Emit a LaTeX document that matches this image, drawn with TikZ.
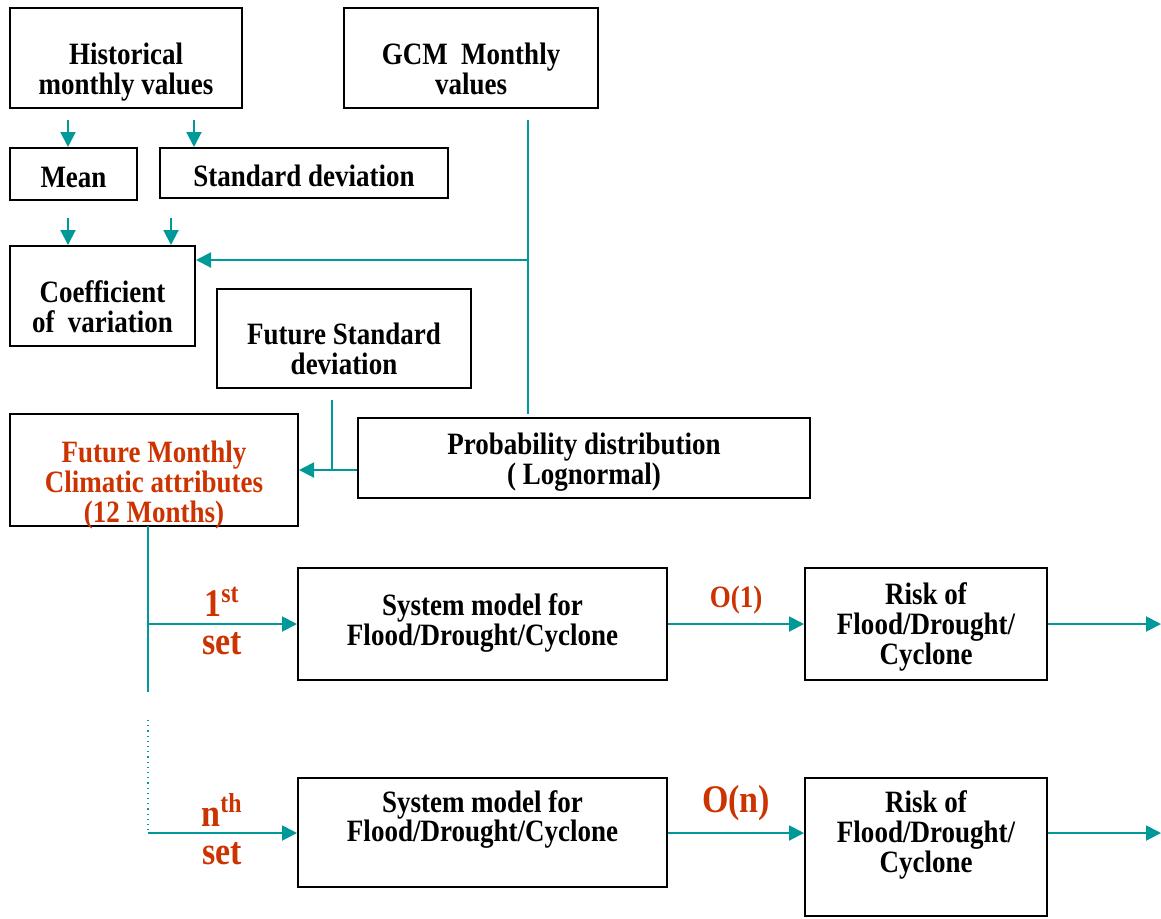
\documentclass[tikz,border=0pt]{standalone}
\usepackage{fontspec}
\setmainfont{Liberation Serif}
\usetikzlibrary{arrows.meta,positioning,calc}
\definecolor{flowteal}{HTML}{009999}
\definecolor{setred}{HTML}{CC3300}
\tikzset{
  box/.style={draw, line width=1pt, inner sep=0pt},
  boxtext/.style={align=center, inner sep=0pt, yscale=1.15,
    font=\bfseries\fontsize{13.5}{13}\selectfont},
  flow/.style={draw=flowteal, line width=1pt, ->},
  flowline/.style={draw=flowteal, line width=1pt},
  setlabel/.style={text=setred, align=center, inner sep=0pt, yscale=1.15,
    font=\bfseries\fontsize{17}{16.5}\selectfont},
}
\begin{document}
\begin{tikzpicture}[x=0.5pt, y=-0.5pt, >={Triangle[length=7.5pt,width=7.5pt]}]
    \useasboundingbox (0,0) rectangle (1161,918);

    % === Inputs and statistics ===
    \node[box, minimum width=116pt, minimum height=50pt,
      label={[yshift=-7pt, boxtext]center:{Historical\\monthly values}}] (hist) at (126,58) {};
    \node[box, minimum width=127pt, minimum height=50pt,
      label={[yshift=-5.5pt, boxtext]center:{GCM~~Monthly\\values}}] (gcm) at (471,58) {};
    \node[box, minimum width=63.5pt, minimum height=26pt,
      label={[yshift=-1.5pt, boxtext]center:{Mean}}] (mean) at (73.5,174) {};
    \node[box, minimum width=144pt, minimum height=25pt,
      label={[yshift=-1.5pt, boxtext]center:{Standard deviation}}] (sd) at (304,173) {};
    \node[box, minimum width=92.5pt, minimum height=50pt,
      label={[yshift=-5.5pt, boxtext]center:{Coefficient\\of~~variation}}] (cov) at (102.5,296) {};
    \node[box, minimum width=127pt, minimum height=49.5pt,
      label={[yshift=-5pt, boxtext]center:{Future Standard\\deviation}}] (fsd) at (344,338.5) {};
    \node[box, minimum width=144pt, minimum height=56pt,
      label={[yshift=-7.5pt, boxtext, text=setred]center:{Future Monthly\\Climatic attributes\\(12 Months)}}] (fut) at (154,470) {};
    \node[box, minimum width=226pt, minimum height=40pt,
      label={[yshift=-2pt, boxtext]center:{Probability distribution\\( Lognormal)}}] (prob) at (584,458) {};

    \coordinate (h1) at (68,120);
    \coordinate (h2) at (194,120);
    \coordinate (m1) at (68,218);
    \coordinate (s1) at (171,218);
    \draw[flow] (h1) -- (h1 |- mean.north);
    \draw[flow] (h2) -- (h2 |- sd.north);
    \draw[flow] (m1) -- (m1 |- cov.north);
    \draw[flow] (s1) -- (s1 |- cov.north);

    % GCM values to CV
    \coordinate (gcmtop) at (528,120);
    \coordinate (gcmbot) at (528,414);
    \coordinate (gcmjoin) at (528,260);
    \draw[flowline] (gcmtop) -- (gcmbot);
    \draw[flow] (gcmjoin) -- (gcmjoin -| cov.east);

    % Future SD and distribution to future attributes
    \coordinate (fsdtop) at (332,400);
    \coordinate (fsdjoin) at (332,470);
    \draw[flowline] (fsdtop) -- (fsdjoin);
    \draw[flow] (fsdjoin -| prob.west) -- (fsdjoin -| fut.east);

    % === Sets ===
    \node[box, minimum width=184.5pt, minimum height=56pt,
      label={[yshift=0.5pt, boxtext]center:{System model for\\Flood/Drought/Cyclone}}] (sys1) at (482.5,624) {};
    \node[box, minimum width=121pt, minimum height=56pt,
      label={[yshift=-1.5pt, boxtext]center:{Risk of\\Flood/Drought/\\Cyclone}}] (risk1) at (926,624) {};
    \node[box, minimum width=184.5pt, minimum height=54.5pt,
      label={[yshift=6.5pt, boxtext]center:{System model for\\Flood/Drought/Cyclone}}] (sysn) at (482.5,832.5) {};
    \node[box, minimum width=121pt, minimum height=69pt,
      label={[yshift=6pt, boxtext]center:{Risk of\\Flood/Drought/\\Cyclone}}] (riskn) at (926,847) {};

    \coordinate (spine) at (148,526);
    \coordinate (spineend) at (148,692);
    \coordinate (dotstart) at (148,720);
    \coordinate (branch1) at (148,624);
    \coordinate (branchn) at (148,833);
    \draw[flowline] (spine) -- (spineend);
    \draw[flowteal, line width=0.6pt, dotted] (dotstart) -- (branchn);
    \draw[flow] (branch1) -- (branch1 -| sys1.west);
    \draw[flow] (branchn) -- (branchn -| sysn.west);
    \node[setlabel] (lab1) at (222,621) {1\textsuperscript{st}\\set};
    \node[setlabel] (labn) at (222,829) {n\textsuperscript{th}\\set};

    \draw[flow] (sys1.east) -- (risk1.west)
      node[midway, above=12pt, anchor=center, boxtext, text=setred] (o1) {O(1)};
    \draw[flow] (branchn -| sysn.east) -- (branchn -| riskn.west)
      node[midway, above=15pt, anchor=center, setlabel] (on) {O(n)};

    \coordinate (out1) at (1161,624);
    \coordinate (outn) at (1161,833);
    \draw[flow] (risk1.east) -- (out1);
    \draw[flow] (outn -| riskn.east) -- (outn);

\end{tikzpicture}
\end{document}
